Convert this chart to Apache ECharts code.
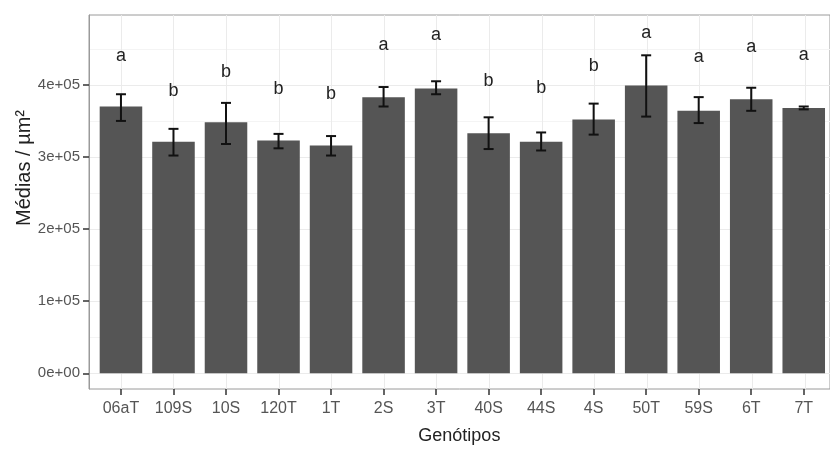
<!DOCTYPE html>
<html>
<head>
<meta charset="utf-8">
<script src="https://cdn.jsdelivr.net/npm/echarts@6/dist/echarts.min.js"></script>
<style>
  html, body { margin: 0; padding: 0; background: #fff; }
  #chart { width: 830px; height: 450px; }
</style>
</head>
<body>
<div id="chart"></div>
<script>
// dados
var genotipos = ["06aT", "109S", "10S", "120T", "1T", "2S", "3T", "40S", "44S", "4S", "50T", "59S", "6T", "7T"];
var medias    = [370000, 321000, 348000, 323000, 316000, 383000, 395000, 333000, 321000, 352000, 399000, 364000, 380000, 368000];
var errInf    = [350000, 302000, 318000, 312000, 302000, 370000, 387000, 311000, 309000, 331000, 356000, 347000, 364000, 366000];
var errSup    = [387000, 339000, 375000, 332000, 329000, 397000, 405000, 355000, 334000, 374000, 441000, 383000, 396000, 370000];
var letras    = ["a", "b", "b", "b", "b", "a", "a", "b", "b", "b", "a", "a", "a", "a"];
var letrasY   = [440000, 392000, 418000, 394000, 387000, 455000, 469000, 405000, 395000, 426000, 472000, 438000, 453000, 441000];
var yTicks    = [0, 100000, 200000, 300000, 400000];
var yTickLabels = ["0e+00", "1e+05", "2e+05", "3e+05", "4e+05"];

var yMin = -21800, yMax = 496900;

var barrasErro = genotipos.map(function (g, i) { return [i, errInf[i], errSup[i]]; });
var letrasData = genotipos.map(function (g, i) { return [i, letrasY[i], letras[i]]; });

var myChart = echarts.init(document.getElementById('chart'));
var option = {
    animation: false,
    textStyle: { fontFamily: 'Liberation Sans, Arial, sans-serif' },
    grid: [
        // painel (moldura + linhas horizontais)
        { left: 89, width: 750, top: 15, bottom: 61, show: true, borderColor: '#9a9a9a', borderWidth: 1, backgroundColor: '#fff' },
        // barras
        { left: 94.7, width: 736.4, top: 15, bottom: 61 },
        // linhas verticais no centro de cada categoria
        { left: 121, width: 683.8, top: 15, bottom: 61 }
    ],
    xAxis: [
        { gridIndex: 0, type: 'value', show: false, min: 0, max: 1 },
        {
            gridIndex: 1,
            type: 'category',
            data: genotipos,
            position: 'bottom',
            axisLine: { show: false, onZero: false },
            axisTick: { show: true, alignWithLabel: true, length: 6, lineStyle: { color: '#333', width: 1.5 } },
            axisLabel: { color: '#555', fontSize: 16, margin: 12, interval: 0 },
            splitLine: { show: false },
            name: 'Genótipos',
            nameLocation: 'middle',
            nameGap: 38,
            nameTextStyle: { color: '#222', fontSize: 18, padding: [0, 0, 0, -6] }
        },
        {
            gridIndex: 2,
            type: 'category',
            data: genotipos,
            boundaryGap: false,
            axisLine: { show: false, onZero: false },
            axisTick: { show: false },
            axisLabel: { show: false },
            splitLine: { show: true, interval: 0, lineStyle: { color: '#ebebeb', width: 1 } }
        }
    ],
    yAxis: [
        {
            gridIndex: 0,
            type: 'value',
            position: 'left',
            min: yMin,
            max: yMax,
            splitNumber: 5,
            axisLine: { show: true, onZero: false, lineStyle: { color: '#9a9a9a', width: 1 } },
            axisTick: { show: true, length: 6, customValues: yTicks, lineStyle: { color: '#333', width: 1.5 } },
            axisLabel: {
                show: true, color: '#555', fontSize: 15, margin: 9, customValues: yTicks,
                formatter: function (v) {
                    var k = yTicks.indexOf(v);
                    return k >= 0 ? yTickLabels[k] : '';
                }
            },
            splitLine: { show: true, lineStyle: { color: '#ebebeb', width: 1 } },
            minorTick: { show: false, splitNumber: 2 },
            minorSplitLine: { show: true, lineStyle: { color: '#f4f4f4', width: 1 } }
        },
        { gridIndex: 1, type: 'value', min: yMin, max: yMax, show: false },
        { gridIndex: 2, type: 'value', min: yMin, max: yMax, show: false }
    ],
    graphic: [
        {
            type: 'text',
            x: 24, y: 168,
            rotation: Math.PI / 2,
            style: {
                text: 'Médias / µm²',
                fill: '#222',
                font: '20px Liberation Sans, Arial, sans-serif',
                align: 'center',
                verticalAlign: 'middle'
            }
        }
    ],
    series: [
        {
            name: 'Médias',
            type: 'bar',
            xAxisIndex: 1,
            yAxisIndex: 1,
            data: medias,
            barWidth: '81%',
            itemStyle: { color: '#555555' }
        },
        {
            name: 'Erro',
            type: 'custom',
            xAxisIndex: 1,
            yAxisIndex: 1,
            data: barrasErro,
            z: 5,
            renderItem: function (params, api) {
                var x = api.value(0);
                var pLow = api.coord([x, api.value(1)]);
                var pHigh = api.coord([x, api.value(2)]);
                var hw = 5;
                var st = { stroke: '#111', lineWidth: 2 };
                return {
                    type: 'group',
                    children: [
                        { type: 'line', shape: { x1: pLow[0], y1: pLow[1], x2: pHigh[0], y2: pHigh[1] }, style: st },
                        { type: 'line', shape: { x1: pHigh[0] - hw, y1: pHigh[1], x2: pHigh[0] + hw, y2: pHigh[1] }, style: st },
                        { type: 'line', shape: { x1: pLow[0] - hw, y1: pLow[1], x2: pLow[0] + hw, y2: pLow[1] }, style: st }
                    ]
                };
            }
        },
        {
            name: 'Letras',
            type: 'custom',
            xAxisIndex: 1,
            yAxisIndex: 1,
            data: letrasData,
            z: 6,
            renderItem: function (params, api) {
                var p = api.coord([api.value(0), api.value(1)]);
                return {
                    type: 'text',
                    x: p[0], y: p[1],
                    style: {
                        text: letrasData[params.dataIndex][2],
                        fill: '#222',
                        font: '18px Liberation Sans, Arial, sans-serif',
                        align: 'center',
                        verticalAlign: 'middle'
                    }
                };
            }
        }
    ]
};
myChart.setOption(option);
</script>
</body>
</html>
